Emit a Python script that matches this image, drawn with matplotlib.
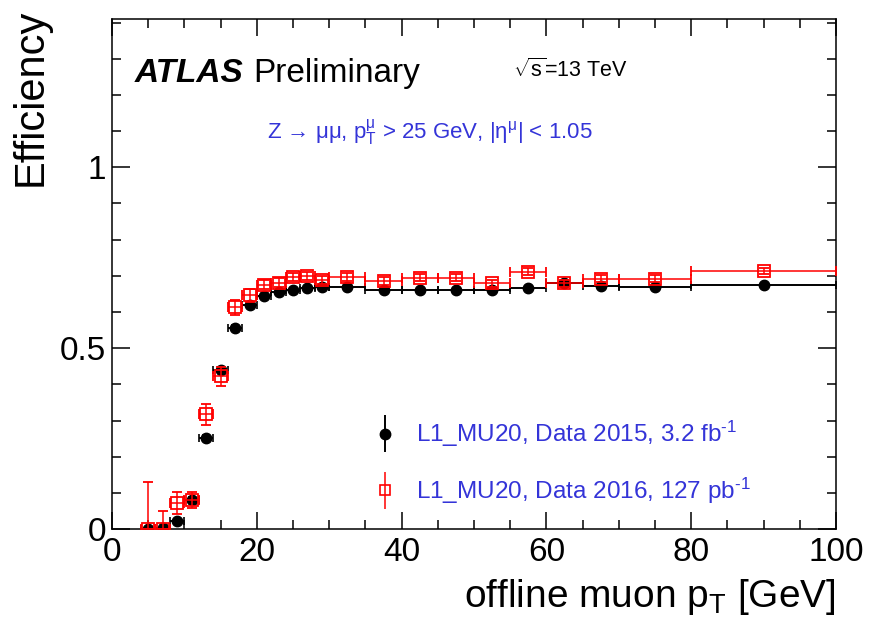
import numpy as np
import matplotlib
matplotlib.use("Agg")
import matplotlib.pyplot as plt
from matplotlib.ticker import MultipleLocator
from matplotlib.container import ErrorbarContainer
from matplotlib.legend_handler import HandlerErrorbar

plt.rcParams['font.family'] = ['Liberation Sans', 'DejaVu Sans']
plt.rcParams['mathtext.fontset'] = 'custom'
plt.rcParams['mathtext.rm'] = 'Liberation Sans'
plt.rcParams['mathtext.it'] = 'Liberation Sans'
plt.rcParams['mathtext.bf'] = 'Liberation Sans:bold'

# bin centres / half widths (GeV)
pt = [5, 7, 9, 11, 13, 15, 17, 19, 21, 23, 25, 27, 29,
      32.5, 37.5, 42.5, 47.5, 52.5, 57.5, 62.5, 67.5, 75, 90]
pt_err = [1] * 13 + [2.5] * 8 + [5, 10]

# L1_MU20, 2015 data
eff_2015 = [0.0, 0.003, 0.022, 0.080, 0.252, 0.439, 0.557, 0.620, 0.644,
            0.654, 0.662, 0.667, 0.670, 0.668, 0.662, 0.660, 0.662, 0.660,
            0.665, 0.679, 0.671, 0.670, 0.676]
err_2015 = [0.0, 0.003, 0.006, 0.008, 0.008, 0.008, 0.007, 0.006, 0.005,
            0.004, 0.004, 0.003, 0.003, 0.002, 0.002, 0.002, 0.002, 0.003,
            0.003, 0.004, 0.004, 0.004, 0.004]

# L1_MU20, 2016 data
eff_2016 = [0.0, 0.0, 0.072, 0.080, 0.317, 0.422, 0.613, 0.646, 0.676,
            0.681, 0.697, 0.700, 0.688, 0.697, 0.686, 0.695, 0.695, 0.679,
            0.711, 0.679, 0.692, 0.692, 0.713]
err_2016_lo = [0.0, 0.0, 0.030, 0.023, 0.030, 0.027, 0.020, 0.018, 0.013,
               0.012, 0.012, 0.011, 0.011, 0.010, 0.010, 0.010, 0.010, 0.010,
               0.010, 0.010, 0.010, 0.009, 0.008]
err_2016_hi = [0.13, 0.05, 0.030, 0.023, 0.030, 0.027, 0.020, 0.018, 0.013,
               0.012, 0.012, 0.011, 0.011, 0.010, 0.010, 0.010, 0.010, 0.010,
               0.010, 0.010, 0.010, 0.009, 0.008]

label_2015 = r"L1_MU20, Data 2015, 3.2 fb$^{\text{-}1}$"
label_2016 = r"L1_MU20, Data 2016, 127 pb$^{\text{-}1}$"

blue = '#3434d8'

fig = plt.figure(figsize=(8.71, 6.31), dpi=100)
ax = fig.add_axes([0.1286, 0.1616, 0.8312, 0.8083])

ax.errorbar(pt, eff_2015, xerr=pt_err, yerr=err_2015, fmt='o', color='black',
            ms=7.5, elinewidth=1.4, capsize=3, capthick=1.2, zorder=3)
ax.errorbar(pt, eff_2016, xerr=pt_err, yerr=[err_2016_lo, err_2016_hi],
            fmt='s', color='red', mfc='none', mec='red', mew=1.3, ms=8.5,
            elinewidth=1.1, capsize=3.5, capthick=1.1, zorder=4)

ax.set_xlim(0, 100)
ax.set_ylim(0, 1.41)
ax.xaxis.set_minor_locator(MultipleLocator(5))
ax.yaxis.set_minor_locator(MultipleLocator(0.1))
ax.set_xticks([0, 20, 40, 60, 80, 100])
ax.set_xticklabels(['0', '20', '40', '60', '80', '100'])
ax.set_yticks([0, 0.5, 1])
ax.set_yticklabels(['0', '0.5', '1'])
ax.tick_params(which='both', direction='in', top=True, right=True,
               width=1.1, labelsize=24)
ax.tick_params(axis='x', which='major', length=12, pad=6)
ax.tick_params(axis='y', which='major', length=13, pad=4)
ax.tick_params(which='minor', length=6.5)
for s in ax.spines.values():
    s.set_linewidth(1.1)

ax.set_xlabel(r"offline muon p$_{\mathrm{T}}$ [GeV]", fontsize=28, loc='right')
ax.xaxis.set_label_coords(1.0, -0.095)
ax.set_ylabel("Efficiency", fontsize=30, loc='top')
ax.yaxis.set_label_coords(-0.085, 1.02)

ax.text(0.032, 0.876, "ATLAS", transform=ax.transAxes, fontsize=24,
        fontweight='bold', fontstyle='italic')
ax.text(0.195, 0.876, "Preliminary", transform=ax.transAxes, fontsize=24)
ax.text(0.554, 0.886, r"$\sqrt{\mathrm{s}}$=13 TeV", transform=ax.transAxes,
        fontsize=15.5)
ax.text(0.214, 0.763,
        r"Z → μμ, p$_{\mathrm{T}}^{\mathrm{μ}}$ > 25 GeV, |η$^{\mathrm{μ}}$| < 1.05",
        transform=ax.transAxes, fontsize=16, color=blue)

# legend proxies: marker with vertical bar only
h1 = ax.errorbar([], [], yerr=[], fmt='o', color='black', ms=7.5,
                 elinewidth=1.4, capsize=0)
h2 = ax.errorbar([], [], yerr=[], fmt='s', color='red', mfc='none', ms=7,
                 mew=1.2, elinewidth=1.1, capsize=0)
leg = ax.legend([h1, h2], [label_2015, label_2016], loc='lower left',
                bbox_to_anchor=(0.36, 0.045), frameon=False, fontsize=17.5,
                labelcolor=blue, handlelength=1.0, handletextpad=0.8,
                labelspacing=1.1, borderpad=0, borderaxespad=0,
                handler_map={ErrorbarContainer: HandlerErrorbar(yerr_size=0.75)})

fig.savefig("out.png", dpi=100)
